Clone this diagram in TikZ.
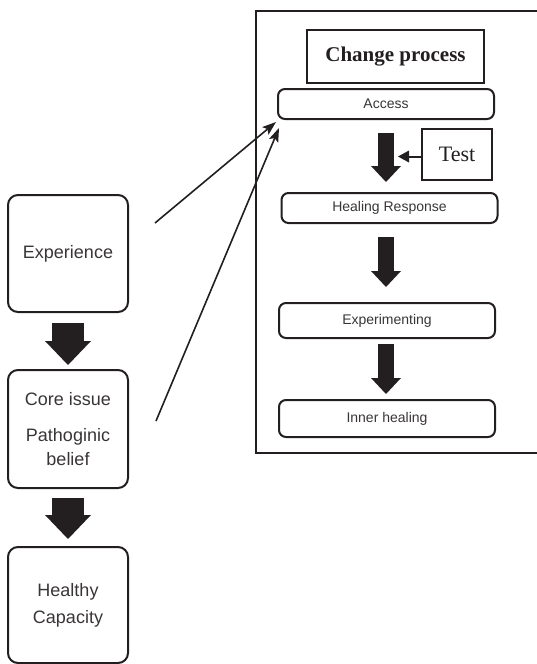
\documentclass[tikz,border=0pt]{standalone}
\usepackage{fontspec}
\setmainfont{Liberation Serif}
\setsansfont{Liberation Sans}
\usetikzlibrary{arrows.meta}
\definecolor{ink}{HTML}{231F20}

\begin{document}
\begin{tikzpicture}[
	x=1pt, y=-1pt,
	every node/.style={inner sep=0pt, text=ink!90},
	stagebox/.style={draw=ink, line width=2pt, rounded corners=10pt,
		minimum width=120pt, align=center,
		font=\sffamily\fontsize{18}{24}\selectfont},
	stepbox/.style={draw=ink, line width=2pt, rounded corners=7pt,
		minimum width=216pt, font=\sffamily\fontsize{14}{16}\selectfont},
	titlebox/.style={draw=ink, line width=2.7pt, minimum width=177pt, minimum height=53pt,
		text=ink, font=\bfseries\fontsize{21}{24}\selectfont},
	fatarrow/.style={draw=ink, line width=32pt,
		-{Triangle[width=46pt,length=24pt,line width=0pt]}},
	slimarrow/.style={draw=ink, line width=16pt,
		-{Triangle[width=30pt,length=16pt,line width=0pt]}},
	thinarrow/.style={draw=ink, line width=1.6pt,
		-{Stealth[width=10pt,length=14pt,inset=3pt,line width=0pt]}}]
\useasboundingbox (0,0) rectangle (536,664);

% left column
\node[stagebox, minimum height=117pt] (exp) at (68,253.5) {Experience};
\node[stagebox, minimum height=118pt] (core) at (68,429) {Core issue\\[12pt]Pathoginic\\belief};
\node[stagebox, minimum height=116pt, font=\sffamily\fontsize{18}{27}\selectfont]
	(healthy) at (68,605) {Healthy\\Capacity};

\draw[fatarrow, shorten <=10pt, shorten >=4pt] (exp.south) -- (core.north);
\draw[fatarrow, shorten <=9pt, shorten >=7pt] (core.south) -- (healthy.north);

% change process frame (open at the right edge)
\draw[ink, line width=2.5pt] (537,11) -- (256,11) -- (256,453) -- (537,453);

\node[titlebox] (change) at (395.5,56.5) {Change process};
\node[stepbox, minimum height=30pt] (access) at (386,104) {Access};
\node[draw=ink, line width=2pt, minimum width=70pt, minimum height=51pt, text=ink,
	font=\fontsize{22}{24}\selectfont] (test) at (457,154.5) {Test};
\node[stepbox, minimum height=30pt] (hr) at (389.5,208) {Healing Response};
\node[stepbox, minimum height=35pt] (expm) at (387,320.5) {Experimenting};
\node[stepbox, minimum height=37pt] (inner) at (387,418.5) {Inner healing};

\draw[slimarrow, shorten <=13pt, shorten >=10pt] (access.south) -- (access.south |- hr.north);
\draw[slimarrow, shorten <=13pt, shorten >=15pt] (access.south |- hr.south) -- (access.south |- expm.north);
\draw[slimarrow, shorten <=5pt, shorten >=5pt] (access.south |- expm.south) -- (access.south |- inner.north);
\draw[ink, line width=2pt, -{Triangle[width=12pt,length=11pt,line width=0pt]}]
	([yshift=-2]test.west) -- ([xshift=-23,yshift=-2]test.west);

% links into the process
\coordinate (fromexp) at (155,223);
\coordinate (fromcore) at (156,421);
\draw[thinarrow] (fromexp) -- ([shift={(-1,2)}]access.south west);
\draw[thinarrow] (fromcore) -- ([shift={(2,8)}]access.south west);
\end{tikzpicture}
\end{document}
